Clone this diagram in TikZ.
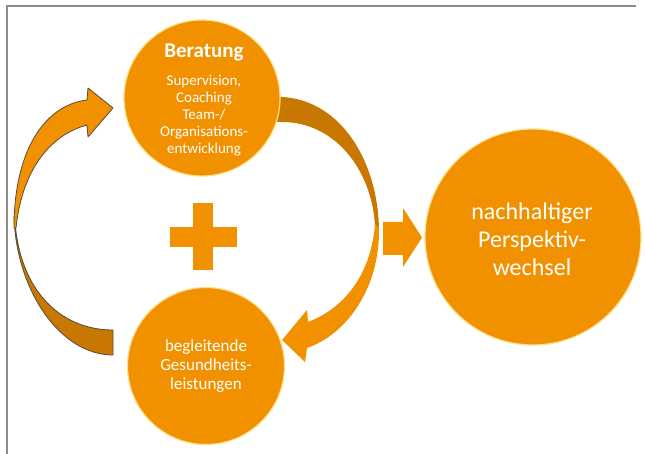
\documentclass[tikz,border=0pt]{standalone}
\usepackage{fontspec}
\setmainfont{Carlito}
\definecolor{org}{RGB}{242,145,0}
\definecolor{orgdark}{RGB}{200,120,0}
\definecolor{rimc}{RGB}{255,224,140}
\definecolor{framec}{RGB}{140,140,140}
\definecolor{outl}{RGB}{90,74,55}
\tikzset{
  bigcirc/.style={circle, fill=org, draw=rimc, line width=1.2pt, inner sep=0pt},
  wtext/.style={text=white, align=center, inner sep=0pt},
  outlined/.style={draw=outl, line width=0.8pt, line join=round}
}
\begin{document}
\begin{tikzpicture}[x=1pt,y=-1pt]
\useasboundingbox (0,0) rectangle (645,454);
\fill[white] (0,0) rectangle (645,454);
% frame
\draw[framec, line width=2pt] (7,454) -- (7,6) -- (636,6);

% right curved arrow (dark back part)
\fill[orgdark] (272,97) -- (282,97) .. controls (340,100) and (378,160) .. (379,230)
  -- (375,226) .. controls (372,170) and (335,122) .. (282,122) -- (272,122) -- cycle;
% right curved arrow (front part with head)
\fill[org] (375,224) -- (379,228) .. controls (380,290) and (345,335) .. (307,348)
  -- (305,362) -- (282,340) -- (307,310) -- (308,322)
  .. controls (352,305) and (372,265) .. (375,224) -- cycle;

% left curved arrow (dark back part)
\filldraw[orgdark, outlined] (14,216) .. controls (16,290) and (60,355) .. (113,355)
  -- (113,330) .. controls (60,330) and (20,290) .. (15,222) -- cycle;
% left curved arrow (front part with head)
\filldraw[org, outlined] (14,228) .. controls (14,150) and (45,105) .. (87,100)
  -- (88,88) -- (113,108) -- (88,137) -- (87,125)
  .. controls (50,135) and (22,170) .. (16,228) -- cycle;

% circles
\node[bigcirc, minimum size=156pt] (ber) at (202,98) {};
\node[bigcirc, minimum size=157pt] (beg) at (206,366) {};
\node[bigcirc, minimum size=216pt] (nach) at (533,237) {};

% plus
\fill[org] (193,203) rectangle (213,270);
\fill[org] (170,227) rectangle (237,247);

% small arrow
\fill[org] (383,222) -- (403,222) -- (403,208) -- (422,237.5) -- (403,267) -- (403,255) -- (383,255) -- cycle;

% texts
\node[wtext, font=\fontsize{21}{24}\selectfont\bfseries] (bertitle) at (204,52) {Beratung};
\node[wtext, font=\fontsize{15}{17}\selectfont] (bersub) at (204,116)
  {Supervision,\\Coaching\\Team-/\\Organisations-\\entwicklung};
\node[wtext, font=\fontsize{17}{19}\selectfont] (begtext) at (206,366)
  {begleitende\\Gesundheits-\\leistungen};
\node[wtext, font=\fontsize{24}{28}\selectfont] (nachtext) at (532,239)
  {nachhaltiger\\Perspektiv-\\wechsel};
\end{tikzpicture}
\end{document}
